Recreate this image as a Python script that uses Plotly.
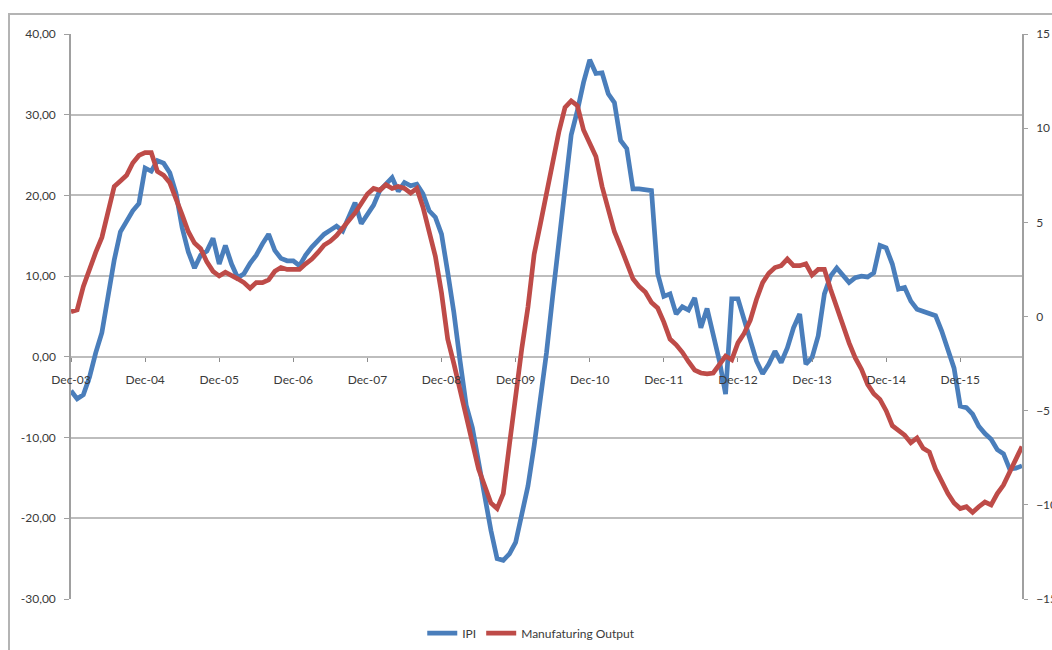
import pandas as pd
import plotly.graph_objects as go

# Monthly observations, Dec-03 .. Oct-16
months = [d.strftime("%b-%y") for d in pd.date_range("2003-12-01", periods=155, freq="MS")]

# IPI, year-on-year change (left axis)
ipi = [
    -4.2, -5.2, -4.7, -2.5, 0.5, 3.0, 7.5, 12.0, 15.5, 16.9, 18.1, 19.0,
    23.4, 23.0, 24.3, 24.0, 22.8, 20.3, 16.0, 13.0, 11.0, 12.6, 13.1, 14.7,
    11.5, 13.8, 11.5, 9.8, 10.3, 11.6, 12.6, 14.0, 15.2, 13.2, 12.2, 11.9,
    11.9, 11.3, 12.6, 13.6, 14.5, 15.2, 15.7, 16.2, 15.6, 17.4, 19.1, 16.5,
    17.7, 18.8, 20.6, 21.5, 22.2, 20.5, 21.6, 21.2, 21.4, 20.2, 18.1, 17.3,
    15.2, 10.5, 5.5, -0.5, -6.0, -8.8, -13.0, -17.5, -21.5, -25.0, -25.2, -24.4,
    -23.0, -19.5, -16.0, -11.0, -5.5, 0.5, 7.5, 14.0, 21.5, 27.5, 30.5, 34.0,
    36.8, 35.1, 35.2, 32.6, 31.5, 26.8, 25.8, 20.8, 20.8, 20.7, 20.6, 10.3,
    7.5, 7.8, 5.3, 6.2, 5.8, 7.3, 3.6, 6.0, 2.8, -0.5, -4.6, 7.2,
    7.2, 4.6, 1.8, -0.5, -2.1, -0.9, 0.7, -0.7, 1.1, 3.6, 5.3, -0.9,
    -0.1, 2.6, 7.8, 10.0, 11.0, 10.0, 9.2, 9.8, 10.0, 9.9, 10.4, 13.8,
    13.5, 11.5, 8.4, 8.6, 6.9, 5.9, 5.6, 5.3, 5.1, 3.2, 1.1, -1.4,
    -6.1, -6.3, -7.1, -8.6, -9.5, -10.2, -11.5, -12.0, -13.9, -13.8, -13.5,
]

# Manufacturing output, year-on-year change (right axis)
manufacturing = [
    0.25, 0.35, 1.6, 2.6, 3.4, 4.2, 5.5, 6.9, 7.2, 7.5, 8.15, 8.55,
    8.7, 8.7, 7.7, 7.5, 7.1, 6.3, 5.4, 4.5, 3.9, 3.6, 2.9, 2.4,
    2.15, 2.35, 2.2, 2.0, 1.8, 1.5, 1.8, 1.8, 1.95, 2.4, 2.6, 2.5,
    2.5, 2.5, 2.8, 3.05, 3.4, 3.8, 4.0, 4.3, 4.7, 5.1, 5.5, 6.0,
    6.5, 6.8, 6.7, 7.0, 6.8, 6.9, 6.8, 6.55, 6.8, 5.8, 4.5, 3.2,
    1.25, -1.2, -2.5, -4.0, -5.3, -6.7, -8.1, -9.0, -9.9, -10.2, -9.4, -6.8,
    -4.0, -1.7, 0.5, 3.3, 4.9, 6.6, 8.3, 9.8, 11.1, 11.45, 11.2, 9.9,
    9.2, 8.5, 6.9, 5.6, 4.5, 3.7, 2.8, 2.0, 1.6, 1.3, 0.75, 0.45,
    -0.3, -1.2, -1.5, -1.9, -2.4, -2.85, -3.0, -3.05, -3.0, -2.5, -2.1, -2.3,
    -1.4, -0.9, -0.2, 0.9, 1.8, 2.3, 2.6, 2.7, 3.05, 2.7, 2.7, 2.8,
    2.2, 2.5, 2.5, 1.45, 0.45, -0.6, -1.4, -2.2, -2.8, -3.6, -4.1, -4.4,
    -5.0, -5.8, -6.05, -6.3, -6.7, -6.45, -7.0, -7.2, -8.1, -8.8, -9.4, -9.9,
    -10.2, -10.1, -10.4, -10.1, -9.85, -10.0, -9.4, -8.95, -8.3, -7.6, -6.9,
]

left_vals = [40, 30, 20, 10, 0, -10, -20, -30]
left_text = ["40,00", "30,00", "20,00", "10,00", "0,00", "-10,00", "-20,00", "-30,00"]
right_vals = [15, 10, 5, 0, -5, -10, -15]
x_ticks = [m for m in months if m.startswith("Dec")]

BLUE = "#4A7EBB"
RED = "#BE4B48"
GRID = "#BDBDBD"
TEXT = "#3A3A3A"
FONT = "Lato, 'Open Sans', sans-serif"

fig = go.Figure()
fig.add_trace(go.Scatter(x=months, y=ipi, name="IPI", mode="lines",
                         line=dict(color=BLUE, width=4.7), yaxis="y"))
fig.add_trace(go.Scatter(x=months, y=manufacturing, name="Manufaturing Output", mode="lines",
                         line=dict(color=RED, width=4.7), yaxis="y2"))

# x axis sits on the zero line of the left axis
zero_pos = (0 - (-30)) / (40 - (-30))

fig.update_layout(
    width=1052, height=650,
    margin=dict(l=71, r=30, t=34, b=51),
    paper_bgcolor="white", plot_bgcolor="white",
    font=dict(family=FONT, size=12, color=TEXT),
    showlegend=True,
    legend=dict(orientation="h", xref="container", yref="container",
                x=0.505, y=0.026, xanchor="center", yanchor="middle",
                font=dict(family=FONT, size=12, color=TEXT), bgcolor="rgba(0,0,0,0)"),
    xaxis=dict(type="category", range=[0, len(months) - 1], anchor="free", position=zero_pos,
               tickvals=x_ticks, ticktext=x_ticks, ticks="outside", ticklen=4,
               tickcolor="#8C8C8C", showline=False, showgrid=False, zeroline=False,
               tickangle=0, tickfont=dict(size=12, color=TEXT), automargin=False,
               ticklabelstandoff=8),
    yaxis=dict(range=[-30, 40], tickvals=left_vals, ticktext=left_text,
               showgrid=True, gridcolor=GRID, gridwidth=1.5, zeroline=False,
               showline=True, linecolor="#A0A0A0", linewidth=1.5,
               ticks="outside", ticklen=5, tickcolor="#A0A0A0", automargin=False,
               ticklabelstandoff=6),
    yaxis2=dict(range=[-15, 15], tickvals=right_vals, overlaying="y", side="right",
                showgrid=False, zeroline=False, showline=True, linecolor="#A0A0A0",
                linewidth=1.5, ticks="outside", ticklen=4, tickcolor="#A0A0A0",
                automargin=False, ticklabelstandoff=6),
    shapes=[dict(type="rect", xref="paper", yref="paper",
                 x0=-0.0652, x1=1.06, y0=-0.2, y1=1.0354,
                 line=dict(color="#B4B4B4", width=2), fillcolor="rgba(0,0,0,0)",
                 layer="below")],
)

fig.write_html("out.html")
